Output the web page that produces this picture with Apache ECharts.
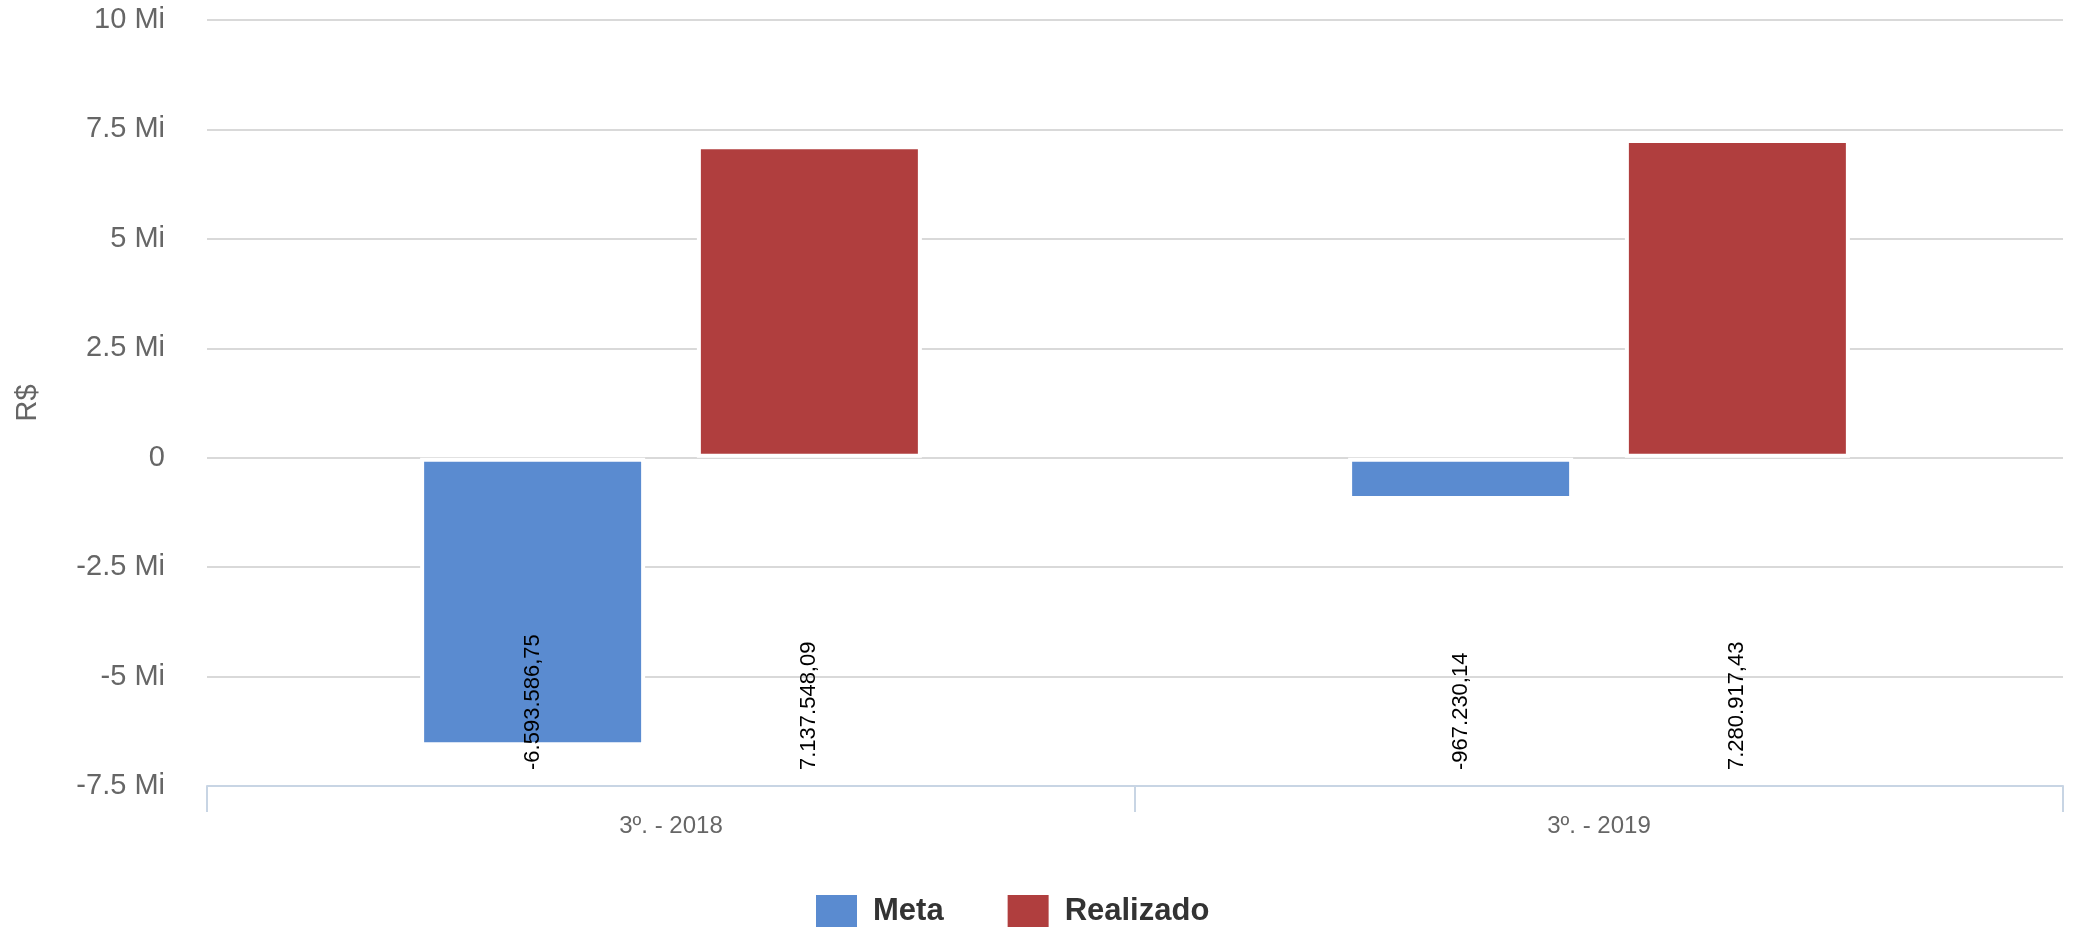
<!DOCTYPE html>
<html>
<head>
<meta charset="utf-8">
<script src="https://cdn.jsdelivr.net/npm/echarts@6/dist/echarts.min.js"></script>
<style>
	html, body { margin: 0; padding: 0; background: #fff; }
</style>
</head>
<body>
<div id="barCharts" style="width: 2074px; height: 928px;"></div>
<script>
	// data
	let categories = ['3º. - 2018', '3º. - 2019'];
	let metaValues = [-6593586.75, -967230.14];
	let realizadoValues = [7137548.09, 7280917.43];
	let seriesNames = ['Meta', 'Realizado'];
	let seriesColors = ['#5a8bd0', '#b03e3e'];

	let fontFamily = '"Liberation Sans", Arial, sans-serif';
	let gridBottom = 142;

	function formatBR(v) {
		let neg = v < 0;
		let parts = Math.abs(v).toFixed(2).split('.');
		let intPart = parts[0].replace(/\B(?=(\d{3})+(?!\d))/g, '.');
		return (neg ? '-' : '') + intPart + ',' + parts[1];
	}

	let chart = echarts.init(document.getElementById('barCharts'));

	function makeSeries(name, values, color) {
		return {
			name: name,
			type: 'bar',
			barWidth: 225,
			barGap: '23%',
			itemStyle: {
				color: color,
				borderColor: '#ffffff',
				borderWidth: 4
			},
			label: {
				show: true,
				color: '#000',
				fontSize: 22,
				fontFamily: fontFamily,
				formatter: function (p) {
					return formatBR(p.value);
				}
			},
			// labels sit at the bottom of the plot, reading upwards
			labelLayout: function (params) {
				return {
					x: params.rect.x + params.rect.width / 2,
					y: chart.getHeight() - gridBottom - 16,
					rotate: 90,
					align: 'left',
					verticalAlign: 'middle'
				};
			},
			data: values
		};
	}

	let option = {
		backgroundColor: '#ffffff',
		animation: false,
		grid: {
			left: 207,
			right: 11,
			top: 20,
			bottom: gridBottom
		},
		legend: {
			left: 809,
			top: 888,
			icon: 'rect',
			itemWidth: 43,
			itemHeight: 34,
			itemGap: 62,
			data: seriesNames,
			textStyle: {
				fontSize: 31,
				fontWeight: 'bold',
				color: '#333',
				fontFamily: fontFamily,
				padding: [0, 0, 0, 10]
			}
		},
		xAxis: {
			type: 'category',
			data: categories,
			axisLine: {
				onZero: false,
				lineStyle: { color: '#c8d5e4', width: 2 }
			},
			axisTick: {
				show: true,
				length: 26,
				lineStyle: { color: '#c8d5e4', width: 2 }
			},
			axisLabel: {
				margin: 28,
				fontSize: 24,
				color: '#666',
				fontFamily: fontFamily
			}
		},
		yAxis: {
			type: 'value',
			name: 'R$',
			nameLocation: 'middle',
			nameRotate: 90,
			nameGap: 165,
			nameTextStyle: {
				fontSize: 29,
				color: '#666',
				fontFamily: fontFamily
			},
			min: -7500000,
			max: 10000000,
			interval: 2500000,
			axisLine: { show: false },
			axisTick: { show: false },
			axisLabel: {
				margin: 42,
				fontSize: 29,
				color: '#666',
				fontFamily: fontFamily,
				formatter: function (v) {
					if (v === 0) return '0';
					return (v / 1000000) + ' Mi';
				}
			},
			splitLine: {
				lineStyle: { color: '#d9d9d9', width: 2 }
			}
		},
		series: [
			makeSeries(seriesNames[0], metaValues, seriesColors[0]),
			makeSeries(seriesNames[1], realizadoValues, seriesColors[1])
		]
	};

	chart.setOption(option);
</script>
</body>
</html>
